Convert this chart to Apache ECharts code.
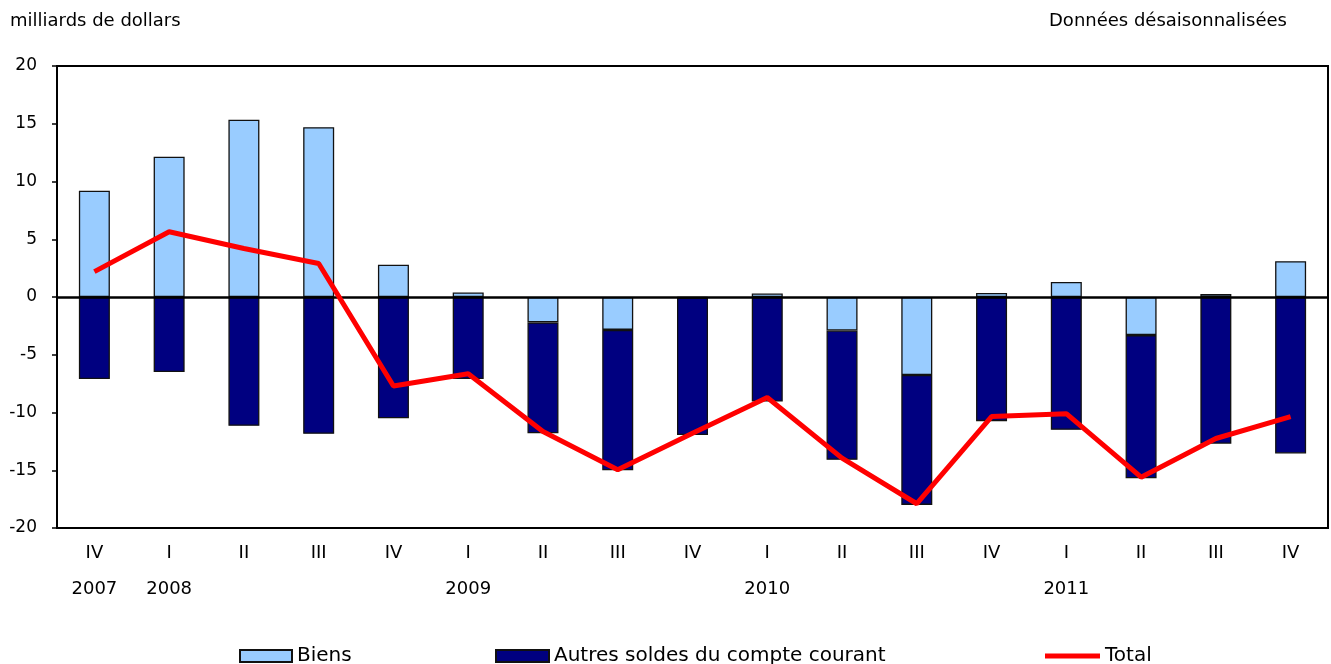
<!DOCTYPE html>
<html>
<head>
<meta charset="utf-8">
<script src="https://cdn.jsdelivr.net/npm/echarts@6/dist/echarts.min.js"></script>
<style>
  html, body { margin: 0; padding: 0; background: #fff; }
  #chart { width: 1331px; height: 664px; }
</style>
</head>
<body>
<div id="chart"></div>
<script>
// trimestres et années
var quarters = ['IV', 'I', 'II', 'III', 'IV', 'I', 'II', 'III', 'IV', 'I', 'II', 'III', 'IV', 'I', 'II', 'III', 'IV'];
var years = ['2007', '2008', '', '', '', '2009', '', '', '', '2010', '', '', '', '2011', '', '', ''];

// milliards de dollars
var biens = [9.2, 12.15, 15.35, 14.7, 2.8, 0.4, -2.2, -2.85, -0.05, 0.3, -2.9, -6.75, 0.35, 1.3, -3.3, 0.25, 3.1];
var autres = [-7.1, -6.5, -11.15, -11.85, -10.5, -7.1, -9.6, -12.15, -11.9, -9.05, -11.2, -11.25, -10.75, -11.5, -12.4, -12.7, -13.55];
var total = [2.2, 5.65, 4.2, 2.9, -7.7, -6.65, -11.65, -14.95, -11.8, -8.7, -13.95, -17.9, -10.35, -10.1, -15.6, -12.25, -10.35];

var yTicks = [-20, -15, -10, -5, 0, 5, 10, 15, 20];

var categories = quarters.map(function (q, i) { return q + '\n' + years[i]; });

var font = 'DejaVu Sans';
var chart = echarts.init(document.getElementById('chart'));

var legendText = { fontSize: 20, color: '#000', fontFamily: font };

var option = {
  animation: false,
  textStyle: { fontFamily: font },
  graphic: [
    { type: 'text', left: 10, top: 12, style: { text: 'milliards de dollars', font: '18px "DejaVu Sans"', fill: '#000' } },
    { type: 'text', right: 44, top: 12, style: { text: 'Données désaisonnalisées', font: '18px "DejaVu Sans"', fill: '#000' } }
  ],
  grid: {
    left: 57, right: 3, top: 66, bottom: 136,
    show: true, borderColor: '#000', borderWidth: 2, backgroundColor: 'transparent'
  },
  legend: [
    {
      data: [{ name: 'Biens', icon: 'rect' }], left: 234, top: 641, itemWidth: 52, itemHeight: 12, itemGap: 6,
      textStyle: legendText
    },
    {
      data: [{ name: 'Autres soldes du compte courant', icon: 'rect' }], left: 490, top: 641, itemWidth: 53, itemHeight: 12,
      textStyle: legendText
    },
    {
      data: [{ name: 'Total', icon: 'rect', itemStyle: { color: '#ff0000', borderWidth: 0 } }],
      left: 1040, top: 641, itemWidth: 55, itemHeight: 5,
      textStyle: legendText
    }
  ],
  xAxis: {
    type: 'category',
    data: categories,
    axisLine: { show: true, onZero: false, lineStyle: { color: '#000', width: 2 } },
    axisTick: { show: false },
    axisLabel: { color: '#000', fontSize: 18, lineHeight: 36, margin: 7, interval: 0 }
  },
  yAxis: {
    type: 'value',
    min: yTicks[0], max: yTicks[yTicks.length - 1], interval: 5,
    splitLine: { show: false },
    axisLine: { show: true, lineStyle: { color: '#000', width: 2 } },
    axisTick: { show: true, length: 5, lineStyle: { color: '#000', width: 1.5 } },
    axisLabel: { color: '#000', fontSize: 17, margin: 20 }
  },
  series: [
    {
      name: 'Biens', type: 'bar', stack: 'solde', data: biens, barWidth: 31,
      itemStyle: { color: '#99ccff', borderColor: '#111', borderWidth: 1.3 },
      markLine: {
        silent: true, symbol: 'none', label: { show: false },
        lineStyle: { color: '#000', width: 2.5, type: 'solid' },
        data: [{ yAxis: 0 }]
      }
    },
    {
      name: 'Autres soldes du compte courant', type: 'bar', stack: 'solde', data: autres, barWidth: 31,
      itemStyle: { color: '#000080', borderColor: '#111', borderWidth: 1.3 }
    },
    {
      name: 'Total', type: 'line', data: total, symbol: 'none', z: 5,
      lineStyle: { color: '#ff0000', width: 5 },
      itemStyle: { color: '#ff0000' }
    }
  ]
};

chart.setOption(option);
</script>
</body>
</html>
